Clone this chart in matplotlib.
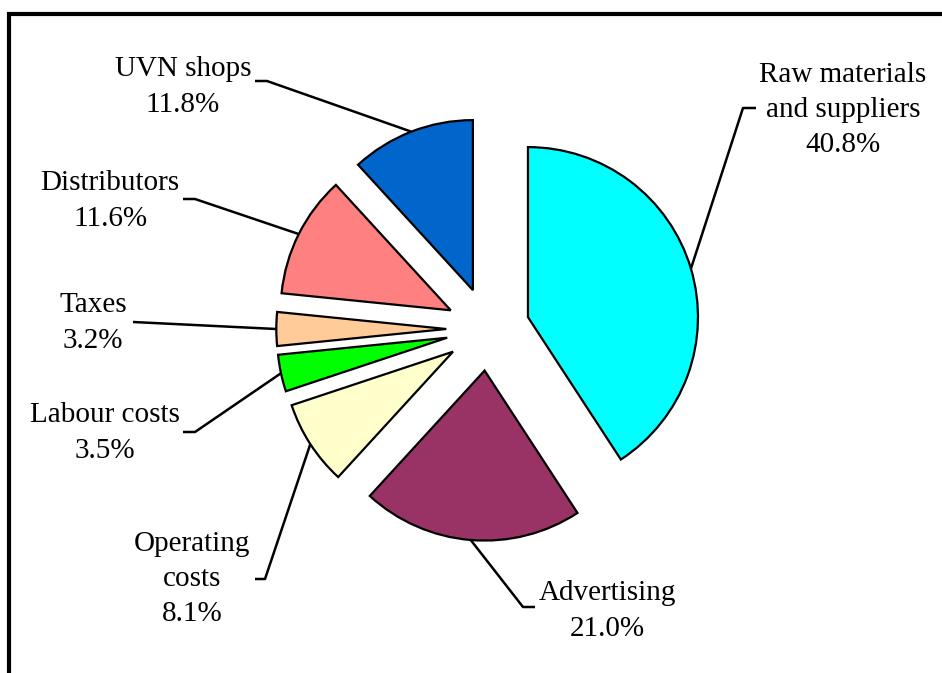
import numpy as np
import matplotlib
matplotlib.use("Agg")
import matplotlib.pyplot as plt

# cost breakdown, clockwise from 12 o'clock
categories = [
    "Raw materials\nand suppliers",
    "Advertising",
    "Operating\ncosts",
    "Labour costs",
    "Taxes",
    "Distributors",
    "UVN shops",
]
shares = [40.8, 21.0, 8.1, 3.5, 3.2, 11.6, 11.8]
colors = ["#00FFFF", "#993366", "#FFFFCC", "#00FF00", "#FFCC99", "#FF8080", "#0066CC"]

W, H = 942, 673

# label layout in image pixels (y down): text centre, knee of the leader, leader end
label_xy = [(843, 110), (607, 611), (192, 579), (105, 433), (93, 323), (110, 201), (183, 87)]
knee_xy = [(743, 108), (523, 607), (265, 579), (195, 432), (133, 322), (195, 199), (267, 81)]
tail_xy = [(756, 108), (535, 607), (255, 579), (183, 432), (133, 322), (183, 199), (255, 81)]


def flip(p):
    return p[0], H - p[1]


plt.rcParams["font.family"] = ["Liberation Serif", "DejaVu Serif"]

fig = plt.figure(figsize=(W / 100, H / 100), dpi=100)
ax = fig.add_axes([0, 0, 1, 1])

# explode is an absolute offset in data units (pixels here)
wedges, _ = ax.pie(
    shares,
    colors=colors,
    startangle=90,
    counterclock=False,
    radius=170,
    center=(488, H - 329),
    explode=[41.7] * len(shares),
    wedgeprops=dict(edgecolor="black", linewidth=1.6),
)

for w, cat, val, lab, knee, tail in zip(wedges, categories, shares, label_xy, knee_xy, tail_xy):
    mid = np.deg2rad((w.theta1 + w.theta2) / 2)
    ex = w.center[0] + w.r * np.cos(mid)
    ey = w.center[1] + w.r * np.sin(mid)
    kx, ky = flip(knee)
    tx, ty = flip(tail)
    ax.plot([ex, kx, tx], [ey, ky, ty], color="black", lw=1.8, solid_capstyle="butt")
    lx, ly = flip(lab)
    ax.text(lx, ly, f"{cat}\n{val:.1f}%", ha="center", va="center",
            fontsize=21, linespacing=1.45, multialignment="center")

# chart frame (cut off at right and bottom like the source)
ax.plot([9, 9, W + 10], [-10, H - 13.5, H - 13.5], color="black", lw=3,
        solid_joinstyle="miter")

ax.set_xlim(0, W)
ax.set_ylim(0, H)
ax.set_aspect("auto")
ax.axis("off")

fig.savefig("out.png", dpi=100)
